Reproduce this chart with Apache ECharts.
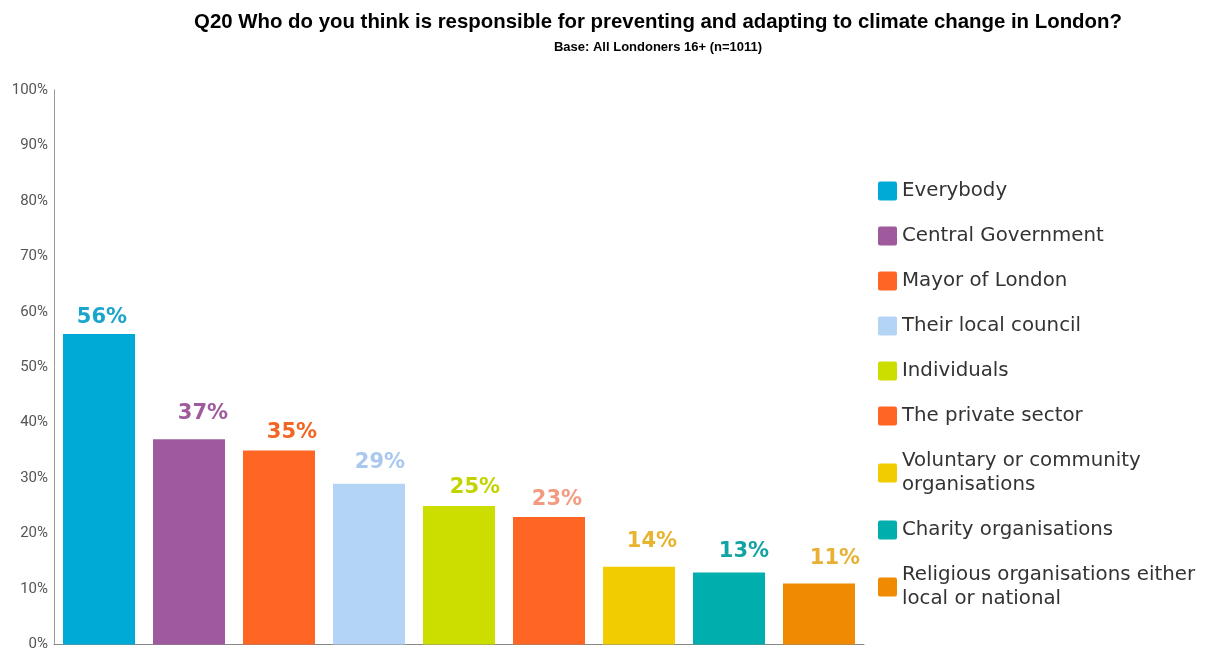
<!DOCTYPE html>
<html>
<head>
<meta charset="utf-8">
<script src="https://cdn.jsdelivr.net/npm/echarts@6/dist/echarts.min.js"></script>
<style>
  html, body { margin: 0; padding: 0; background: #fff; }
  #chart { width: 1210px; height: 652px; }
</style>
</head>
<body>
<div id="chart"></div>
<script>
// Responses: who is responsible for preventing and adapting to climate change
const categories = [
  'Everybody',
  'Central Government',
  'Mayor of London',
  'Their local council',
  'Individuals',
  'The private sector',
  'Voluntary or community\norganisations',
  'Charity organisations',
  'Religious organisations either\nlocal or national'
];
const values = [56, 37, 35, 29, 25, 23, 14, 13, 11];
const tickLabels = ['0%', '10%', '20%', '30%', '40%', '50%', '60%', '70%', '80%', '90%', '100%'];

// Bar fill and value-label colours per category
const barColors = ['#00AAD6', '#9E5A9C', '#FF6624', '#B3D4F5', '#CCDD00', '#FF6624', '#F0CC00', '#00AEAE', '#F08A00'];
const labelColors = ['#1AA5CC', '#9E5A9C', '#F26522', '#A9C8F0', '#C2D400', '#F39A80', '#E8B430', '#12A3A3', '#E8B035'];
// Hand-placed nudges for the value labels [dx, dy]
const labelNudge = [[3, 6], [14, -3], [13, 5], [11, 1], [16, 4], [8, 5], [13, -3], [15, 2], [16, -2]];

const chart = echarts.init(document.getElementById('chart'));

// One series per category so each gets its own legend entry; stacking keeps
// every bar centred on its own category slot.
const series = categories.map((name, i) => ({
  name: name,
  type: 'bar',
  stack: 'all',
  barWidth: '80%',
  data: categories.map((_, j) => (j === i ? values[i] : null)),
  itemStyle: { color: barColors[i] },
  label: {
    show: true,
    position: 'top',
    distance: 12,
    offset: labelNudge[i],
    formatter: (p) => p.value + '%',
    color: labelColors[i],
    fontFamily: 'DejaVu Sans',
    fontWeight: 'bold',
    fontSize: 21
  }
}));

chart.setOption({
  animation: false,
  backgroundColor: '#ffffff',
  title: [
    {
      text: 'Q20 Who do you think is responsible for preventing and adapting to climate change in London?',
      left: 653,
      top: 7,
      textAlign: 'center',
      textStyle: { fontFamily: 'Liberation Sans', fontWeight: 'bold', fontSize: 20.4, color: '#000' }
    },
    {
      text: 'Base: All Londoners 16+ (n=1011)',
      left: 653,
      top: 36,
      textAlign: 'center',
      textStyle: { fontFamily: 'Liberation Sans', fontWeight: 'bold', fontSize: 13, color: '#000' }
    }
  ],
  legend: {
    orient: 'vertical',
    left: 878,
    top: 179,
    padding: 0,
    itemWidth: 19,
    itemHeight: 19,
    itemGap: 21,
    icon: 'path://M2,0H17Q19,0,19,2V17Q19,19,17,19H2Q0,19,0,17V2Q0,0,2,0Z',
    selectedMode: false,
    textStyle: {
      fontFamily: 'DejaVu Sans',
      fontSize: 19.8,
      lineHeight: 24,
      color: '#333'
    },
    data: categories
  },
  grid: { left: 54, right: 346, top: 90, bottom: 6, containLabel: false },
  xAxis: {
    type: 'category',
    data: categories,
    axisLine: { lineStyle: { color: '#888', width: 1 } },
    axisTick: { show: false },
    axisLabel: { show: false }
  },
  yAxis: {
    type: 'value',
    min: 0,
    max: 100,
    interval: 10,
    splitLine: { show: false },
    axisLine: { show: true, lineStyle: { color: '#999', width: 1 } },
    axisTick: { show: false },
    axisLabel: {
      formatter: (v) => tickLabels[Math.round(v / 10)],
      fontFamily: 'Roboto',
      fontSize: 15,
      color: '#555',
      margin: 6
    }
  },
  series: series
});
</script>
</body>
</html>
